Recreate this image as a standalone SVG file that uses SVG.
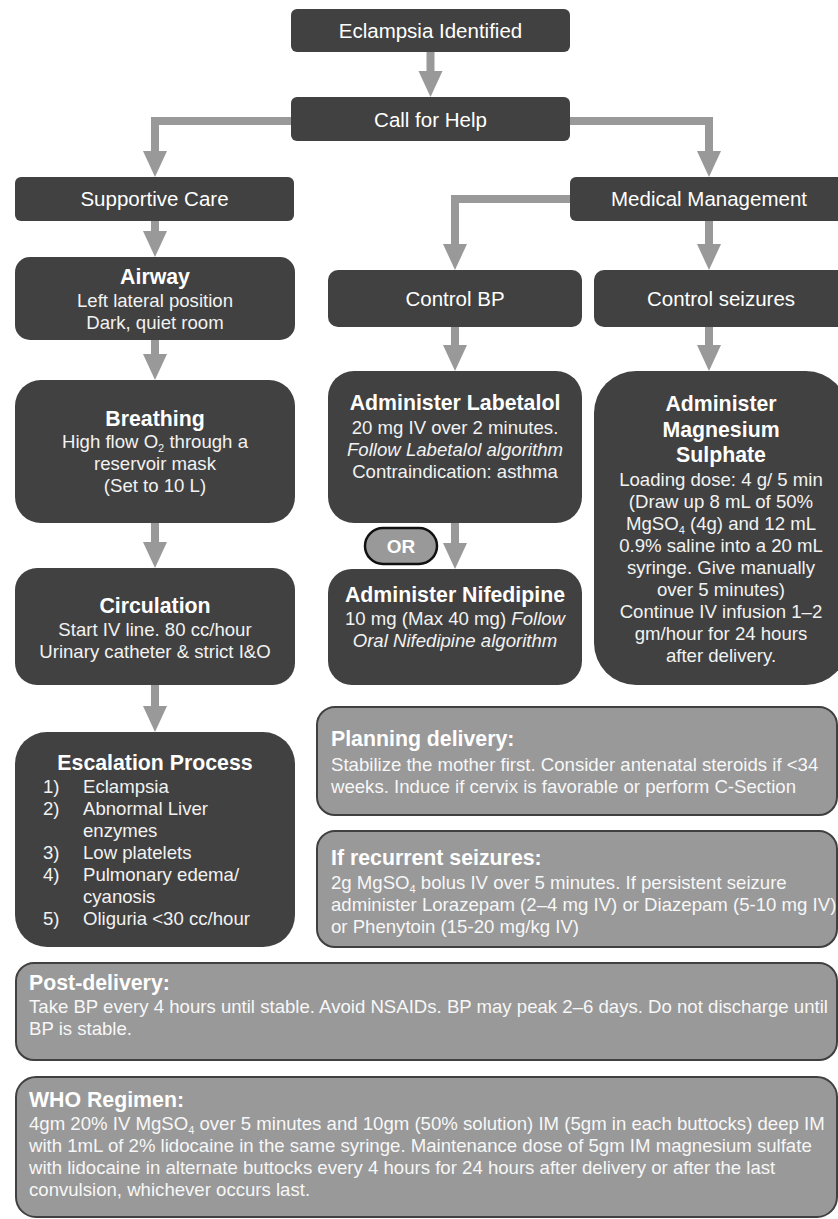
<svg xmlns="http://www.w3.org/2000/svg" width="838" height="1219" viewBox="0 0 838 1219">
<style>
.dk{fill:#414141}
.gr{fill:#999999;stroke:#404040;stroke-width:2}
.orp{fill:#999999;stroke:#111;stroke-width:2.5}
text{font-family:"Liberation Sans",Arial,Helvetica,sans-serif;fill:#ffffff}
.lbl{font-size:20.5px;text-anchor:middle}
.ttl{font-size:21.3px;font-weight:bold;text-anchor:middle}
.bd{font-size:18.6px;text-anchor:middle;fill:#f2f2f2}
.li{font-size:18.6px;fill:#f2f2f2}
.gt{font-size:21.3px;font-weight:bold}
.gb{font-size:18.6px;fill:#f7f7f7}
.it{font-style:italic}
.sub{font-size:11px}
.cn path{fill:none;stroke:#999999;stroke-width:8}
.cn polygon{fill:#999999}
</style>
<rect x="0" y="0" width="838" height="1219" fill="#ffffff"/>

<g id="connectors" class="cn">
  <path d="M430.5,52 V72"/><polygon points="418.5,71 442.5,71 430.5,97"/>
  <path d="M291,121 H155 V152"/><polygon points="143,151 167,151 155,177"/>
  <path d="M570,121 H709 V152"/><polygon points="697,151 721,151 709,177"/>
  <path d="M155,221 V232"/><polygon points="143,231 167,231 155,257"/>
  <path d="M709,221 V245"/><polygon points="697,244 721,244 709,270"/>
  <path d="M570,199 H455 V245"/><polygon points="443,244 467,244 455,270"/>
  <path d="M155,340 V355"/><polygon points="143,354 167,354 155,380"/>
  <path d="M155,523 V543"/><polygon points="143,542 167,542 155,568"/>
  <path d="M155,685 V707"/><polygon points="143,706 167,706 155,732"/>
  <path d="M455,327 V346"/><polygon points="443,345 467,345 455,371"/>
  <path d="M455,523 V544"/><polygon points="443,543 467,543 455,569"/>
  <path d="M709,327 V346"/><polygon points="697,345 721,345 709,371"/>
</g>

<g id="eclampsia-identified">
  <rect class="dk" x="291" y="9" width="279" height="43" rx="6"/>
  <text class="lbl" x="430.5" y="38">Eclampsia Identified</text>
</g>
<g id="call-for-help">
  <rect class="dk" x="291" y="97" width="279" height="44" rx="6"/>
  <text class="lbl" x="430.5" y="127">Call for Help</text>
</g>
<g id="supportive-care">
  <rect class="dk" x="15" y="177" width="279" height="44" rx="6"/>
  <text class="lbl" x="154.5" y="206">Supportive Care</text>
</g>
<g id="medical-management">
  <rect class="dk" x="570" y="177" width="290" height="44" rx="6"/>
  <text class="lbl" x="709" y="206">Medical Management</text>
</g>
<g id="control-bp">
  <rect class="dk" x="328" y="270" width="254" height="57" rx="10"/>
  <text class="lbl" x="455" y="306">Control BP</text>
</g>
<g id="control-seizures">
  <rect class="dk" x="594" y="270" width="254" height="57" rx="10"/>
  <text class="lbl" x="721" y="306">Control seizures</text>
</g>

<g id="airway">
  <rect class="dk" x="15" y="257" width="280" height="83" rx="15"/>
  <text class="ttl" x="155" y="284">Airway</text>
  <text class="bd" x="155" y="307">Left lateral position</text>
  <text class="bd" x="155" y="329">Dark, quiet room</text>
</g>
<g id="breathing">
  <rect class="dk" x="15" y="380" width="280" height="143" rx="26"/>
  <text class="ttl" x="155" y="426">Breathing</text>
  <text class="bd" x="155" y="448">High flow O<tspan class="sub" dy="4">2</tspan><tspan dy="-4"> through a</tspan></text>
  <text class="bd" x="155" y="470">reservoir mask</text>
  <text class="bd" x="155" y="492">(Set to 10 L)</text>
</g>
<g id="circulation">
  <rect class="dk" x="15" y="568" width="280" height="117" rx="22"/>
  <text class="ttl" x="155" y="613">Circulation</text>
  <text class="bd" x="155" y="636">Start IV line. 80 cc/hour</text>
  <text class="bd" x="155" y="658">Urinary catheter &amp; strict I&amp;O</text>
</g>
<g id="escalation-process">
  <rect class="dk" x="15" y="732" width="280" height="215" rx="32"/>
  <text class="ttl" x="155" y="770">Escalation Process</text>
  <text class="li" x="43" y="793">1)</text><text class="li" x="83" y="793">Eclampsia</text>
  <text class="li" x="43" y="815">2)</text><text class="li" x="83" y="815">Abnormal Liver</text>
  <text class="li" x="83" y="837">enzymes</text>
  <text class="li" x="43" y="859">3)</text><text class="li" x="83" y="859">Low platelets</text>
  <text class="li" x="43" y="881">4)</text><text class="li" x="83" y="881">Pulmonary edema/</text>
  <text class="li" x="83" y="903">cyanosis</text>
  <text class="li" x="43" y="925">5)</text><text class="li" x="83" y="925">Oliguria &lt;30 cc/hour</text>
</g>

<g id="administer-labetalol">
  <rect class="dk" x="328" y="371" width="254" height="152" rx="26"/>
  <text class="ttl" x="455" y="410">Administer Labetalol</text>
  <text class="bd" x="455" y="434">20 mg IV over 2 minutes.</text>
  <text class="bd it" x="455" y="456">Follow Labetalol algorithm</text>
  <text class="bd" x="455" y="478">Contraindication: asthma</text>
</g>
<g id="or">
  <rect class="orp" x="365" y="528" width="72" height="36" rx="18"/>
  <text x="401" y="553" font-size="19" font-weight="bold" text-anchor="middle">OR</text>
</g>
<g id="administer-nifedipine">
  <rect class="dk" x="328" y="569" width="254" height="116" rx="24"/>
  <text class="ttl" x="455" y="602">Administer Nifedipine</text>
  <text class="bd" x="455" y="625">10 mg (Max 40 mg) <tspan class="it">Follow</tspan></text>
  <text class="bd it" x="455" y="647">Oral Nifedipine algorithm</text>
</g>
<g id="administer-magnesium-sulphate">
  <rect class="dk" x="594" y="371" width="254" height="314" rx="42"/>
  <text class="ttl" x="721" y="411">Administer</text>
  <text class="ttl" x="721" y="437">Magnesium</text>
  <text class="ttl" x="721" y="462">Sulphate</text>
  <text class="bd" x="721" y="486">Loading dose: 4 g/ 5 min</text>
  <text class="bd" x="721" y="508">(Draw up 8 mL of 50%</text>
  <text class="bd" x="721" y="530">MgSO<tspan class="sub" dy="4">4</tspan><tspan dy="-4"> (4g) and 12 mL</tspan></text>
  <text class="bd" x="721" y="552">0.9% saline into a 20 mL</text>
  <text class="bd" x="721" y="574">syringe. Give manually</text>
  <text class="bd" x="721" y="596">over 5 minutes)</text>
  <text class="bd" x="721" y="618">Continue IV infusion 1–2</text>
  <text class="bd" x="721" y="640">gm/hour for 24 hours</text>
  <text class="bd" x="721" y="662">after delivery.</text>
</g>

<g id="planning-delivery">
  <rect class="gr" x="317" y="707" width="520" height="108" rx="18"/>
  <text class="gt" x="331" y="746">Planning delivery:</text>
  <text class="gb" x="331" y="771">Stabilize the mother first. Consider antenatal steroids if &lt;34</text>
  <text class="gb" x="331" y="793">weeks. Induce if cervix is favorable or perform C-Section</text>
</g>
<g id="if-recurrent-seizures">
  <rect class="gr" x="317" y="831" width="520" height="116" rx="18"/>
  <text class="gt" x="331" y="865">If recurrent seizures:</text>
  <text class="gb" x="331" y="889">2g MgSO<tspan class="sub" dy="4">4</tspan><tspan dy="-4"> bolus IV over 5 minutes. If persistent seizure</tspan></text>
  <text class="gb" x="331" y="911">administer Lorazepam (2–4 mg IV) or Diazepam (5-10 mg IV)</text>
  <text class="gb" x="331" y="933">or Phenytoin (15-20 mg/kg IV)</text>
</g>
<g id="post-delivery">
  <rect class="gr" x="16" y="963" width="821" height="97" rx="18"/>
  <text class="gt" x="29" y="990">Post-delivery:</text>
  <text class="gb" x="29" y="1013">Take BP every 4 hours until stable. Avoid NSAIDs. BP may peak 2–6 days. Do not discharge until</text>
  <text class="gb" x="29" y="1035">BP is stable.</text>
</g>
<g id="who-regimen">
  <rect class="gr" x="16" y="1077" width="821" height="140" rx="20"/>
  <text class="gt" x="29" y="1107">WHO Regimen:</text>
  <text class="gb" x="29" y="1130">4gm 20% IV MgSO<tspan class="sub" dy="4">4</tspan><tspan dy="-4"> over 5 minutes and 10gm (50% solution) IM (5gm in each buttocks) deep IM</tspan></text>
  <text class="gb" x="29" y="1152">with 1mL of 2% lidocaine in the same syringe. Maintenance dose of 5gm IM magnesium sulfate</text>
  <text class="gb" x="29" y="1174">with lidocaine in alternate buttocks every 4 hours for 24 hours after delivery or after the last</text>
  <text class="gb" x="29" y="1196">convulsion, whichever occurs last.</text>
</g>
</svg>
